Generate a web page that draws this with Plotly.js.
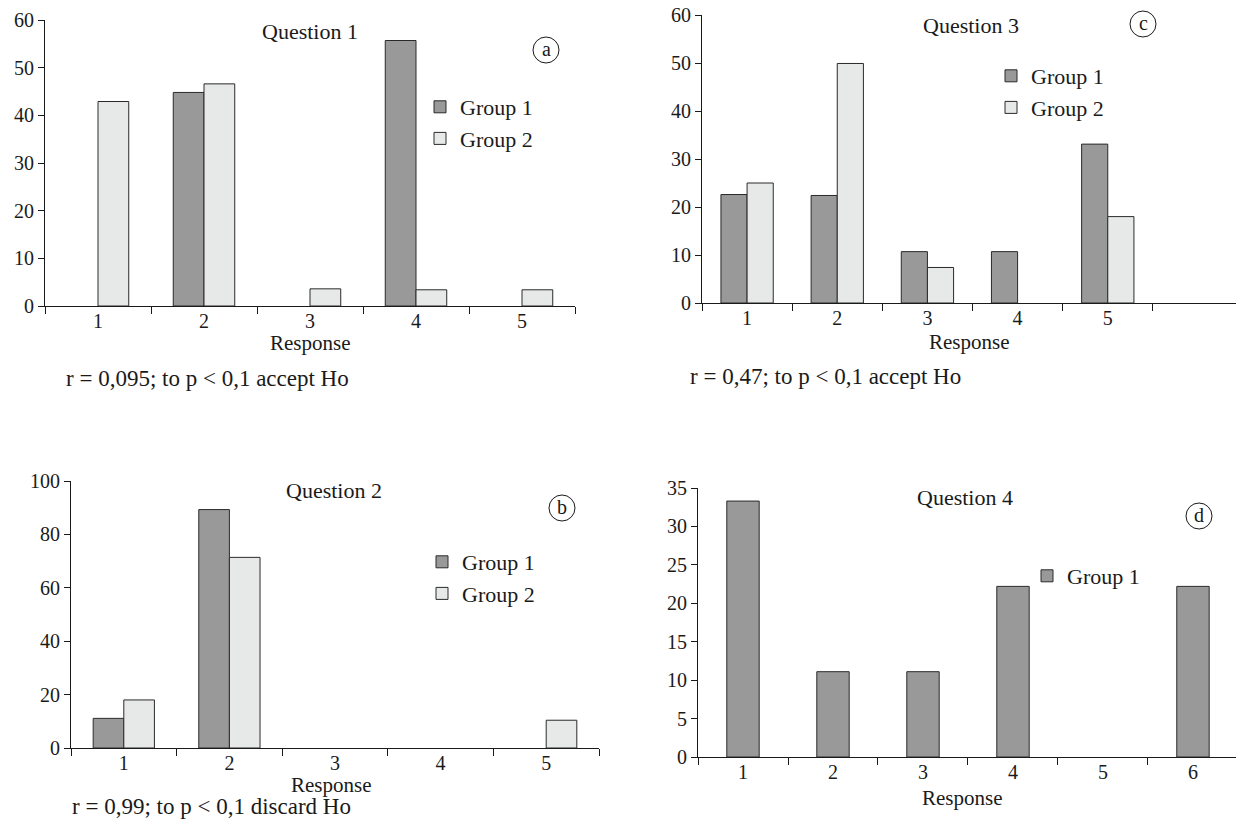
<!DOCTYPE html>
<html>
<head>
<meta charset="utf-8">
<script src="https://cdn.plot.ly/plotly-3.0.1.min.js"></script>
<style>html,body{margin:0;padding:0;background:#fff;}#chart{width:1236px;height:822px;}</style>
</head>
<body>
<div id="chart"></div>
<script>
// ---- data ----
const responsesQ1 = ["1", "2", "3", "4", "5"];
const q1Group1 = [0, 44.8, 0, 55.7, 0];
const q1Group2 = [42.9, 46.6, 3.6, 3.4, 3.4];

const responsesQ2 = ["1", "2", "3", "4", "5"];
const q2Group1 = [11.1, 89.3, 0, 0, 0];
const q2Group2 = [18.0, 71.4, 0, 0, 10.4];

const responsesQ3 = ["1", "2", "3", "4", "5", " "];
const q3Group1 = [22.6, 22.4, 10.7, 10.7, 33.1, null];
const q3Group2 = [25.0, 49.9, 7.4, 0, 18.0, null];

const responsesQ4 = ["1", "2", "3", "4", "5", "6"];
const q4Group1 = [33.3, 11.1, 11.1, 22.2, 0, 22.2];

const seriesNames = ["Group 1", "Group 2"];
const panelTitles = ["Question 1", "Question 2", "Question 3", "Question 4"];
const panelLetters = ["a", "b", "c", "d"];
const footnotes = [
  "r = 0,095; to p &lt; 0,1 accept Ho",
  "r = 0,99; to p &lt; 0,1 discard Ho",
  "r = 0,47; to p &lt; 0,1 accept Ho"
];
const axisTitle = "Response";

// ---- styling helpers ----
const W = 1236, H = 822;
const px = v => v / W;
const py = v => 1 - v / H;
const FONT = "Liberation Serif, Times New Roman, serif";
const INK = "#1a1a1a";
const fill1 = "#999999";
const fill2 = "#e7e9e9";

function bar(x, y, name, fillc, xa, ya, leg, extra) {
  return Object.assign({
    type: "bar", x: x,
    // a zero share is drawn as no bar at all (as in the reference)
    y: y.map(v => (v === 0 ? null : v)),
    customdata: y,
    name: name,
    xaxis: xa, yaxis: ya, legend: leg, showlegend: true,
    marker: {color: fillc, line: {color: "#2a2a2a", width: 1}},
    hovertemplate: "%{x}: %{customdata}<extra>" + name + "</extra>"
  }, extra || {});
}

const data = [
  bar(responsesQ1, q1Group1, seriesNames[0], fill1, "x", "y", "legend"),
  bar(responsesQ1, q1Group2, seriesNames[1], fill2, "x", "y", "legend"),
  bar(responsesQ2, q2Group1, seriesNames[0], fill1, "x2", "y2", "legend2"),
  bar(responsesQ2, q2Group2, seriesNames[1], fill2, "x2", "y2", "legend2"),
  bar(responsesQ3, q3Group1, seriesNames[0], fill1, "x3", "y3", "legend3"),
  bar(responsesQ3, q3Group2, seriesNames[1], fill2, "x3", "y3", "legend3"),
  bar(responsesQ4, q4Group1, seriesNames[0], fill1, "x4", "y4", "legend4", {width: 0.36})
];

const tickFont = {family: FONT, size: 20, color: INK};

function xax(domain, anchor, range) {
  return {
    domain: domain, anchor: anchor, type: "category", range: range,
    showline: true, linecolor: INK, linewidth: 1,
    ticks: "outside", ticklen: 7, tickcolor: INK, tickwidth: 1,
    tickson: "boundaries", showgrid: false, zeroline: false,
    ticklabelstandoff: -3,
    tickfont: tickFont, fixedrange: true
  };
}
function yax(domain, anchor, range, dtick) {
  return {
    domain: domain, anchor: anchor, range: range, dtick: dtick, tick0: 0,
    showline: true, linecolor: INK, linewidth: 1,
    ticks: "outside", ticklen: 6, tickcolor: INK, tickwidth: 1,
    showgrid: false, zeroline: false, tickfont: tickFont, fixedrange: true
  };
}
function leg(x, y) {
  return {x: px(x), y: py(y), xanchor: "left", yanchor: "top",
          bgcolor: "rgba(0,0,0,0)", borderwidth: 0,
          font: {family: FONT, size: 22, color: INK}, tracegroupgap: 0};
}

const annotations = [];
function txt(text, x, y, anchor, size) {
  annotations.push({text: text, x: px(x), y: py(y), xref: "paper", yref: "paper",
    xanchor: anchor || "center", yanchor: "middle", showarrow: false,
    font: {family: FONT, size: size || 22, color: INK}});
}
const shapes = [];
function circ(cx, cy, r, letter) {
  shapes.push({type: "circle", xref: "paper", yref: "paper",
    x0: px(cx - r), x1: px(cx + r), y0: py(cy + r), y1: py(cy - r),
    line: {color: INK, width: 1}});
  txt(letter, cx, cy - 1, "center", 20);
}

// panel titles
txt(panelTitles[0], 310, 31);
txt(panelTitles[1], 334, 490);
txt(panelTitles[2], 971, 26);
txt(panelTitles[3], 965, 497);
// axis titles
txt(axisTitle, 310, 343, "center", 21);
txt(axisTitle, 332, 785, "center", 21);
txt(axisTitle, 970, 342, "center", 21);
txt(axisTitle, 962, 798, "center", 21);
// circled letters
circ(546, 50, 13, panelLetters[0]);
circ(562, 508, 13, panelLetters[1]);
circ(1143, 24, 13, panelLetters[2]);
circ(1199, 516, 13, panelLetters[3]);
// footnotes
txt(footnotes[0], 64, 378, "left", 23);
txt(footnotes[1], 70, 806, "left", 23);
txt(footnotes[2], 688, 377, "left", 23);

const layout = {
  width: W, height: H,
  margin: {l: 0, r: 0, t: 0, b: 0},
  paper_bgcolor: "#ffffff", plot_bgcolor: "rgba(0,0,0,0)",
  barmode: "group", bargap: 0.42, bargroupgap: 0,
  font: {family: FONT, color: INK},
  xaxis:  xax([px(45), px(575)], "y", [-0.5, 4.5]),
  yaxis:  yax([py(306), py(20)], "x", [0, 60], 10),
  xaxis2: xax([px(71), px(599)], "y2", [-0.5, 4.5]),
  yaxis2: yax([py(748), py(481)], "x2", [0, 100], 20),
  xaxis3: xax([px(702), 1], "y3", [-0.5, 5.422]),
  yaxis3: yax([py(303), py(15)], "x3", [0, 60], 10),
  xaxis4: xax([px(698), 1], "y4", [-0.5, 5.478]),
  yaxis4: yax([py(757), py(488)], "x4", [0, 35], 5),
  legend:  leg(420, 86),
  legend2: leg(422, 541),
  legend3: leg(991, 55),
  legend4: leg(1027, 555),
  annotations: annotations,
  shapes: shapes,
  showlegend: true
};

Plotly.newPlot("chart", data, layout, {displayModeBar: false});
</script>
</body>
</html>
